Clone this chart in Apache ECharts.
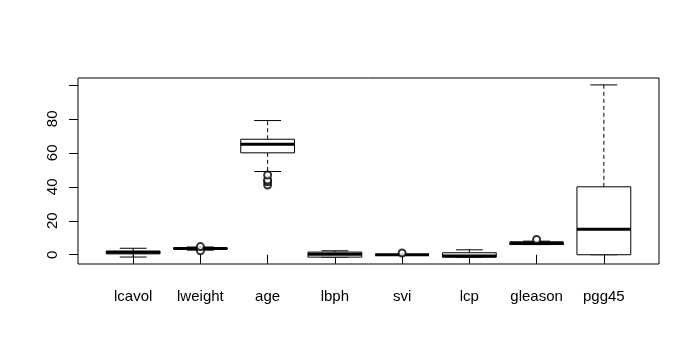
<!DOCTYPE html>
<html>
<head>
<meta charset="utf-8">
<script src="https://cdn.jsdelivr.net/npm/echarts@6/dist/echarts.min.js"></script>
<style>
  html, body { margin: 0; padding: 0; background: #fff; }
  #chart { width: 700px; height: 362px; }
</style>
</head>
<body>
<div id="chart"></div>
<script>
// boxplot stats per variable (prostate data)
const categories = ['lcavol', 'lweight', 'age', 'lbph', 'svi', 'lcp', 'gleason', 'pgg45'];
const whiskerLow = [-1.35, 2.69, 49, -1.39, 0, -1.39, 6, 0];
const q1 = [0.51, 3.38, 60, -1.39, 0, -1.39, 6, 0];
const median = [1.45, 3.62, 65, 0.30, 0, -0.80, 7, 15];
const q3 = [2.13, 3.88, 68, 1.56, 0, 1.18, 7, 40];
const whiskerHigh = [3.82, 4.56, 79, 2.33, 0, 2.90, 8, 100];
// outliers: [category position (1-based), value]
const outliers = [[2, 2.38], [2, 4.78], [3, 41], [3, 43], [3, 44], [3, 47], [5, 1], [7, 9]];
const yTicks = [0, 20, 40, 60, 80, 100];
const yLabels = [0, 20, 40, 60, 80];

const font = "'Liberation Sans', Arial, sans-serif";
const chart = echarts.init(document.getElementById('chart'));

const boxData = categories.map((c, i) => [i + 1, whiskerLow[i], q1[i], median[i], q3[i], whiskerHigh[i]]);

function renderBox(params, api) {
  const x = api.value(0);
  const half = api.size([0.4, 0])[0];
  const capHalf = api.size([0.2, 0])[0];
  const c = api.coord([x, 0])[0];
  const yLo = api.coord([x, api.value(1)])[1];
  const yQ1 = api.coord([x, api.value(2)])[1];
  const yMed = api.coord([x, api.value(3)])[1];
  const yQ3 = api.coord([x, api.value(4)])[1];
  const yHi = api.coord([x, api.value(5)])[1];
  const lineStyle = { stroke: '#000', lineWidth: 1, fill: null };
  const dashStyle = { stroke: '#000', lineWidth: 1, lineDash: [4, 3], fill: null };
  return {
    type: 'group',
    children: [
      { type: 'line', shape: { x1: c, y1: yQ3, x2: c, y2: yHi }, style: dashStyle },
      { type: 'line', shape: { x1: c, y1: yQ1, x2: c, y2: yLo }, style: dashStyle },
      { type: 'line', shape: { x1: c - capHalf, y1: yHi, x2: c + capHalf, y2: yHi }, style: lineStyle },
      { type: 'line', shape: { x1: c - capHalf, y1: yLo, x2: c + capHalf, y2: yLo }, style: lineStyle },
      { type: 'rect', shape: { x: c - half, y: yQ3, width: half * 2, height: yQ1 - yQ3 },
        style: { stroke: '#000', lineWidth: 1, fill: '#fff' } },
      { type: 'line', shape: { x1: c - half, y1: yMed, x2: c + half, y2: yMed },
        style: { stroke: '#000', lineWidth: 3 } }
    ]
  };
}

const option = {
  animation: false,
  backgroundColor: '#fff',
  textStyle: { fontFamily: font },
  grid: {
    left: 78, right: 41, top: 78, bottom: 98,
    show: true, borderColor: '#000', borderWidth: 1, backgroundColor: 'transparent'
  },
  xAxis: {
    type: 'value',
    min: 0.18,
    max: 8.82,
    axisLine: { show: false },
    splitLine: { show: false },
    axisTick: { show: true, length: 9, customValues: [1, 2, 3, 4, 5, 6, 7, 8], lineStyle: { color: '#000' } },
    axisLabel: {
      customValues: [1, 2, 3, 4, 5, 6, 7, 8],
      formatter: v => categories[Math.round(v) - 1],
      color: '#000', fontSize: 15, fontFamily: font, margin: 25
    }
  },
  yAxis: {
    type: 'value',
    min: -5.45,
    max: 104.06,
    axisLine: { show: false },
    splitLine: { show: false },
    axisTick: { show: true, length: 9, customValues: yTicks, lineStyle: { color: '#000' } },
    axisLabel: {
      customValues: yLabels,
      rotate: 90,
      color: '#000', fontSize: 15, fontFamily: font, margin: 18
    }
  },
  series: [
    {
      type: 'custom',
      renderItem: renderBox,
      data: boxData,
      encode: { x: 0, y: [1, 2, 3, 4, 5] },
      silent: true
    },
    {
      type: 'scatter',
      data: outliers,
      symbol: 'emptyCircle',
      symbolSize: 7,
      itemStyle: { color: '#000', borderColor: '#000', borderWidth: 1 },
      silent: true,
      z: 5
    }
  ]
};

chart.setOption(option);
</script>
</body>
</html>
